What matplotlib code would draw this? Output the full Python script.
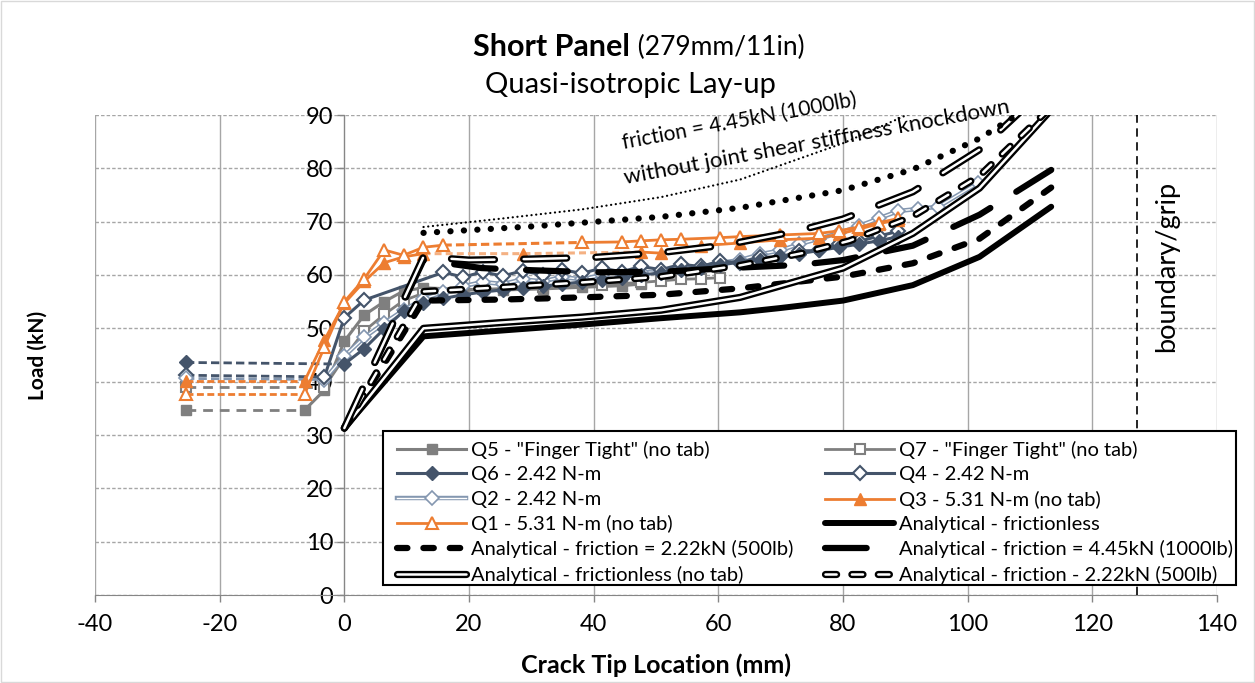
import matplotlib
matplotlib.use('Agg')
import matplotlib.pyplot as plt
import matplotlib.patheffects as pe
from matplotlib.patches import Rectangle
from matplotlib.legend_handler import HandlerTuple

plt.rcParams['font.family'] = ['Lato', 'DejaVu Sans']
plt.rcParams['lines.scale_dashes'] = False
plt.rcParams['axes.unicode_minus'] = False

# ---------------- text ----------------
title_bold = 'Short Panel'
title_paren = '(279mm/11in)'
title_line2 = 'Quasi-isotropic Lay-up'
x_label = 'Crack Tip Location (mm)'
y_label = 'Load (kN)'
note_line1 = 'friction = 4.45kN (1000lb)'
note_line2 = 'without joint shear stiffness knockdown'
grip_label = 'boundary/grip'
x_ticks = [-40, -20, 0, 20, 40, 60, 80, 100, 120, 140]
y_ticks = [0, 10, 20, 30, 40, 50, 60, 70, 80, 90]
grip_x = 127.2

# ---------------- experimental data ----------------
q5_pre_x = [-25.4, -6.35]
q5_pre_y = [34.7, 34.7]
q5_x = [-6.35, -3.2, 0.0, 3.2, 6.4, 9.5, 12.7, 19.1, 25.4, 31.8, 38.1, 44.5, 47.6]
q5_y = [34.7, 38.4, 47.6, 52.5, 55.0, 57.0, 57.6, 57.3, 57.2, 57.4, 57.7, 58.0, 58.3]

q7_pre_x = [-25.4, -3.2]
q7_pre_y = [39.0, 39.0]
q7_x = [-3.2, 0.0, 3.2, 6.4, 9.5, 12.7, 22.2, 31.8, 41.3, 47.6, 50.8, 54.0, 57.2, 60.3]
q7_y = [39.0, 44.5, 49.5, 52.6, 55.2, 56.6, 57.3, 57.8, 58.2, 58.6, 58.9, 59.2, 59.3, 59.5]

q6_pre_x = [-25.4, 0.0]
q6_pre_y = [43.6, 43.3]
q6_x = [0.0, 3.2, 6.4, 9.5, 12.7, 15.9, 19.1, 22.2, 25.4, 28.6, 31.8, 34.9, 38.1, 41.3,
        44.5, 47.6, 50.8, 54.0, 57.2, 60.3, 63.5, 66.7, 69.9, 73.0, 76.2, 79.4, 82.6,
        85.7, 88.9]
q6_y = [43.3, 46.2, 49.9, 53.2, 54.8, 55.6, 56.3, 56.8, 57.2, 57.6, 57.9, 58.3, 58.7, 59.1,
        59.5, 60.0, 60.4, 60.9, 61.4, 61.9, 62.4, 62.9, 63.5, 64.0, 64.6, 65.2, 65.8,
        66.4, 67.2]

q4_pre_x = [-25.4, -3.2]
q4_pre_y = [41.2, 40.9]
q4_x = [-3.2, 0.0, 3.2, 15.9, 19.1, 22.2, 25.4, 28.6, 31.8, 34.9, 38.1, 41.3, 44.5, 47.6,
        50.8, 54.0, 57.2, 60.3, 63.5, 66.7, 69.9, 73.0, 76.2, 79.4, 82.6, 85.7, 88.9]
q4_y = [40.9, 52.0, 55.3, 60.5, 59.6, 60.6, 59.8, 60.8, 60.0, 61.0, 60.3, 61.3, 60.6, 61.6,
        61.0, 62.0, 61.6, 62.6, 62.3, 63.4, 63.3, 64.5, 64.6, 65.8, 66.3, 67.3, 68.2]

q2_pre_x = [-25.4, -3.2]
q2_pre_y = [40.6, 40.4]
q2_x = [-3.2, 0.0, 3.2, 6.4, 9.5, 12.7, 15.9, 19.1, 22.2, 25.4, 28.6, 31.8, 34.9, 38.1,
        41.3, 44.5, 47.6, 50.8, 54.0, 57.2, 60.3, 63.5, 66.7, 69.9, 73.0, 76.2, 79.4,
        82.6, 85.7, 88.9, 92.1, 95.3, 101.6]
q2_y = [40.4, 44.8, 48.3, 51.0, 53.4, 55.5, 56.8, 57.9, 58.7, 58.3, 59.2, 58.8, 59.6, 59.2,
        60.0, 59.7, 60.6, 60.4, 61.2, 61.5, 62.3, 62.8, 63.9, 64.6, 65.8, 66.8, 67.9,
        69.2, 70.6, 72.0, 72.4, 72.8, 77.2]

q3_pre_x = [-25.4, -6.35]
q3_pre_y = [40.2, 40.2]
q3_a_x = [-6.35, -3.2, 0.0, 3.2, 6.4, 9.5, 12.7]
q3_a_y = [40.2, 47.8, 54.7, 58.8, 62.3, 63.4, 64.0]
q3_gap_x = [12.7, 28.6, 47.6]
q3_gap_y = [64.0, 64.0, 64.3]
q3_b_x = [47.6, 50.8, 57.2, 63.5, 69.9, 76.2, 79.4, 82.6, 85.7, 88.9]
q3_b_y = [64.3, 64.1, 65.5, 66.0, 66.6, 66.9, 67.7, 68.6, 69.6, 70.4]

q1_pre_x = [-25.4, -6.35]
q1_pre_y = [37.7, 37.7]
q1_a_x = [-6.35, -3.2, 0.0, 3.2, 6.4, 9.5, 12.7, 15.9]
q1_a_y = [37.7, 46.5, 55.0, 59.3, 64.7, 63.7, 65.2, 65.6]
q1_gap_x = [15.9, 38.1]
q1_gap_y = [65.6, 66.1]
q1_b_x = [38.1, 44.5, 47.6, 50.8, 54.0, 60.3, 63.5, 69.9, 76.2, 79.4, 82.6, 85.7, 88.9]
q1_b_y = [66.1, 66.2, 66.4, 66.6, 66.7, 67.0, 67.2, 67.5, 67.8, 68.3, 69.0, 69.8, 70.6]

# ---------------- analytical data ----------------
an_free_x = [0, 12.7, 25.4, 38.1, 50.8, 63.5, 69.9, 80.0, 91.2, 101.9, 113.4]
an_free_y = [31.3, 48.5, 49.6, 50.7, 51.9, 53.0, 53.8, 55.2, 58.1, 63.4, 72.8]
an_f222_x = [0, 12.7, 25.4, 38.1, 50.8, 63.5, 80.0, 91.2, 101.9, 113.4]
an_f222_y = [31.3, 55.2, 55.4, 55.8, 56.3, 57.5, 59.7, 62.2, 66.8, 76.4]
an_f445_x = [0, 12.7, 22.0, 30.0, 40.0, 50.8, 63.5, 73.0, 80.0, 91.2, 101.9, 113.4]
an_f445_y = [31.3, 62.8, 61.3, 60.9, 60.5, 60.6, 61.4, 61.9, 62.8, 65.5, 71.3, 79.7]
an_free_nt_x = [0, 12.7, 25.4, 38.1, 50.8, 63.5, 80.0, 91.2, 101.9, 113.4]
an_free_nt_y = [31.3, 50.0, 51.1, 52.1, 53.4, 55.8, 61.3, 67.8, 76.3, 91.0]
an_f222_nt_x = [0, 12.7, 25.4, 38.1, 50.8, 63.5, 73.5, 81.0, 91.2, 101.9, 113.4]
an_f222_nt_y = [31.3, 56.9, 57.7, 58.6, 59.7, 61.8, 64.1, 66.4, 71.0, 78.6, 91.5]
an_f445_nt_x = [0, 12.7, 20.0, 30.0, 40.0, 50.8, 61.0, 72.5, 80.0, 91.2, 101.9, 113.4]
an_f445_nt_y = [31.3, 63.4, 62.8, 63.0, 63.3, 64.2, 65.6, 68.2, 70.5, 75.6, 83.5, 96.0]
an_dots_x = [12.7, 30.0, 50.8, 63.5, 80.0, 91.2, 101.9, 113.4]
an_dots_y = [67.9, 69.1, 70.9, 72.6, 75.9, 79.8, 85.6, 94.0]
an_nokd_x = [12.7, 25.4, 38.1, 50.8, 63.5, 80.0, 91.2]
an_nokd_y = [69.0, 70.6, 72.3, 74.6, 77.9, 84.7, 90.5]

# ---------------- styles ----------------
GRAY = '#7F7F7F'
SLATE = '#44546A'
LIGHT = '#8497B0'
ORANGE = '#ED7D31'

W, H = 1255, 683
fig = plt.figure(figsize=(W / 100, H / 100), dpi=100)
ax = fig.add_axes([95 / W, 1 - 595 / H, (1217 - 95) / W, (595 - 115) / H])
ax.set_xlim(-40, 140)
ax.set_ylim(0, 90)

ax.set_xticks(x_ticks)
ax.set_yticks(y_ticks)
ax.xaxis.grid(True, color='#A6A6A6', lw=1.0, ls='-')
ax.yaxis.grid(True, color='#A6A6A6', lw=1.0, ls=(0, (2.5, 1.5)))
ax.set_axisbelow(True)
for s in ['top', 'right']:
    ax.spines[s].set_visible(False)
ax.spines['left'].set_position(('data', 0))
ax.spines['left'].set_color('#868686')
ax.spines['bottom'].set_color('#868686')
ax.tick_params(axis='both', colors='#868686', labelcolor='black', labelsize=17,
               length=5, width=1)
ax.tick_params(axis='y', pad=3)
ax.tick_params(axis='x', pad=9)

# experimental: pre-test dashed segments
pre_kw = dict(lw=2.0, zorder=3)
ax.plot(q5_pre_x, q5_pre_y, color=GRAY, ls=(0, (7, 5)), marker='s', ms=7.5,
        markevery=[0], **pre_kw)
ax.plot(q7_pre_x, q7_pre_y, color=GRAY, ls=(0, (7, 5)), marker='s', ms=7.5, mfc='white',
        mec=GRAY, mew=1.5, markevery=[0], **pre_kw)
ax.plot(q6_pre_x, q6_pre_y, color=SLATE, ls=(0, (6, 3)), marker='D', ms=7,
        markevery=[0], **pre_kw)
ax.plot(q4_pre_x, q4_pre_y, color=SLATE, ls=(0, (6, 3)), marker='D', ms=7, mfc='white',
        mec=SLATE, mew=1.5, markevery=[0], **pre_kw)
ax.plot(q2_pre_x, q2_pre_y, color=LIGHT, ls=(0, (6, 3)), marker='D', ms=7, mfc='white',
        mec=LIGHT, mew=1.2, markevery=[0], **pre_kw)
ax.plot(q3_pre_x, q3_pre_y, color=ORANGE, ls=(0, (5, 2.5)), marker='^', ms=8,
        markevery=[0], **pre_kw)
ax.plot(q1_pre_x, q1_pre_y, color=ORANGE, ls=(0, (5, 2.5)), marker='^', ms=8, mfc='white',
        mec=ORANGE, mew=1.5, markevery=[0], **pre_kw)

# experimental main lines
h_q5, = ax.plot(q5_x, q5_y, color=GRAY, lw=2.2, marker='s', ms=7.5, zorder=3)
h_q7, = ax.plot(q7_x, q7_y, color=GRAY, lw=2.0, marker='s', ms=7.5, mfc='white', mec=GRAY,
                mew=1.5, zorder=3)
h_q2l, = ax.plot(q2_x, q2_y, color='white', lw=1.0, zorder=3,
                 path_effects=[pe.Stroke(linewidth=3.2, foreground=LIGHT), pe.Normal()])
h_q2m, = ax.plot(q2_x, q2_y, ls='none', marker='D', ms=7, mfc='white', mec=LIGHT,
                 mew=1.2, zorder=3)
h_q4, = ax.plot(q4_x, q4_y, color=SLATE, lw=2.2, marker='D', ms=7, mfc='white', mec=SLATE,
                mew=1.5, zorder=3)
h_q6, = ax.plot(q6_x, q6_y, color=SLATE, lw=2.2, marker='D', ms=7, zorder=3)
ax.plot(q3_gap_x, q3_gap_y, color='#F4B183', lw=2.2, ls=(0, (5, 3)), marker='^', ms=8,
        mfc=ORANGE, mec=ORANGE, markevery=[1], zorder=3)
h_q3, = ax.plot(q3_a_x, q3_a_y, color=ORANGE, lw=2.0, marker='^', ms=8, zorder=3)
ax.plot(q3_b_x, q3_b_y, color=ORANGE, lw=2.0, marker='^', ms=8, zorder=3)
ax.plot(q1_gap_x, q1_gap_y, color=ORANGE, lw=2.2, ls=(0, (6, 3)), zorder=3)
h_q1, = ax.plot(q1_a_x, q1_a_y, color=ORANGE, lw=2.0, marker='^', ms=8, mfc='white',
                mec=ORANGE, mew=1.5, zorder=3)
ax.plot(q1_b_x, q1_b_y, color=ORANGE, lw=2.0, marker='^', ms=8, mfc='white', mec=ORANGE,
        mew=1.5, zorder=3)

# analytical lines
dbl = [pe.Stroke(linewidth=5.2, foreground='black'), pe.Normal()]
h_A, = ax.plot(an_free_x, an_free_y, color='black', lw=4.3, solid_capstyle='round',
               solid_joinstyle='round', zorder=4)
h_B, = ax.plot(an_f222_x, an_f222_y, color='black', lw=4.5, ls=(0, (7.5, 11.5)),
               dash_capstyle='round', zorder=4)
h_C, = ax.plot(an_f445_x, an_f445_y, color='black', lw=4.5, ls=(0, (30, 22)),
               dash_capstyle='round', zorder=4)
h_D, = ax.plot(an_free_nt_x, an_free_nt_y, color='white', lw=1.8, solid_capstyle='round',
               zorder=4, path_effects=dbl)
h_E, = ax.plot(an_f222_nt_x, an_f222_nt_y, color='white', lw=1.8, ls=(0, (8, 11)),
               dash_capstyle='round', zorder=4, path_effects=dbl)
ax.plot(an_f445_nt_x, an_f445_nt_y, color='white', lw=1.8, ls=(0, (31, 21)),
        dash_capstyle='round', zorder=4, path_effects=dbl)
ax.plot(an_dots_x, an_dots_y, color='black', lw=4.5, ls=(0, (0.1, 9.6)),
        dash_capstyle='round', zorder=4)
ax.plot(an_nokd_x, an_nokd_y, color='black', lw=1.6, ls=(0, (0.1, 3.3)),
        dash_capstyle='round', zorder=4)

# boundary / grip
ax.axvline(grip_x, color='black', lw=1.2, ls=(0, (6, 4)), zorder=4)
ax.text(131.9, 61.6, grip_label, rotation=90, ha='center', va='center', fontsize=19.5)

# annotation along the dotted line
ax.text(63.4, 88.9, note_line1, rotation=10.5, ha='center', va='center', fontsize=15,
        rotation_mode='anchor', clip_on=False, zorder=6)
ax.text(75.8, 84.8, note_line2, rotation=10.5, ha='center', va='center', fontsize=16,
        rotation_mode='anchor', clip_on=False, zorder=6)

# titles and axis labels
fig.text(0.5015, 0.931, title_bold, ha='right', va='center', fontsize=22, fontweight='bold')
fig.text(0.503, 0.931, ' ' + title_paren, ha='left', va='center', fontsize=19)
fig.text(0.502, 0.8755, title_line2, ha='center', va='center', fontsize=21)
fig.text(656 / W, 1 - 665 / H, x_label, ha='center', va='center', fontsize=18,
         fontweight='bold')
fig.text(38 / W, 1 - 355 / H, y_label, ha='center', va='center', fontsize=15,
         fontweight='bold', rotation=90)

# legend box and two columns
rect = Rectangle((383 / W, 1 - 585 / H), (1236 - 383) / W, (585 - 431) / H,
                 transform=fig.transFigure, facecolor='white', edgecolor='black', lw=1.5,
                 zorder=9, clip_on=False)
ax.add_patch(rect)
leg_kw = dict(loc='upper left', frameon=False, fontsize=14.5, handlelength=3.45,
              handletextpad=0.2, labelspacing=0.36, borderpad=0, borderaxespad=0,
              numpoints=1, handler_map={tuple: HandlerTuple(ndivide=1, pad=0)})
col1 = [h_q5, h_q6, (h_q2l, h_q2m), h_q1, h_B, h_D]
col1_lab = ['Q5 - "Finger Tight" (no tab)', 'Q6 - 2.42 N-m', 'Q2 - 2.42 N-m',
            'Q1 - 5.31 N-m (no tab)', 'Analytical - friction = 2.22kN (500lb)',
            'Analytical - frictionless (no tab)']
col2 = [h_q7, h_q4, h_q3, h_A, h_C, h_E]
col2_lab = ['Q7 - "Finger Tight" (no tab)', 'Q4 - 2.42 N-m', 'Q3 - 5.31 N-m (no tab)',
            'Analytical - frictionless', 'Analytical - friction = 4.45kN (1000lb)',
            'Analytical - friction - 2.22kN (500lb)']
leg1 = ax.legend(col1, col1_lab, bbox_to_anchor=(397 / W, 1 - 441 / H),
                 bbox_transform=fig.transFigure, **leg_kw)
leg1.set_zorder(10)
ax.add_artist(leg1)
leg2 = ax.legend(col2, col2_lab, bbox_to_anchor=(825 / W, 1 - 441 / H),
                 bbox_transform=fig.transFigure, **leg_kw)
leg2.set_zorder(10)

# chart border
fig.patches.append(Rectangle((0.001, 0.001), 0.998, 0.998, transform=fig.transFigure,
                             fill=False, edgecolor='#D9D9D9', lw=1.0))

fig.savefig('out.png', dpi=100)
